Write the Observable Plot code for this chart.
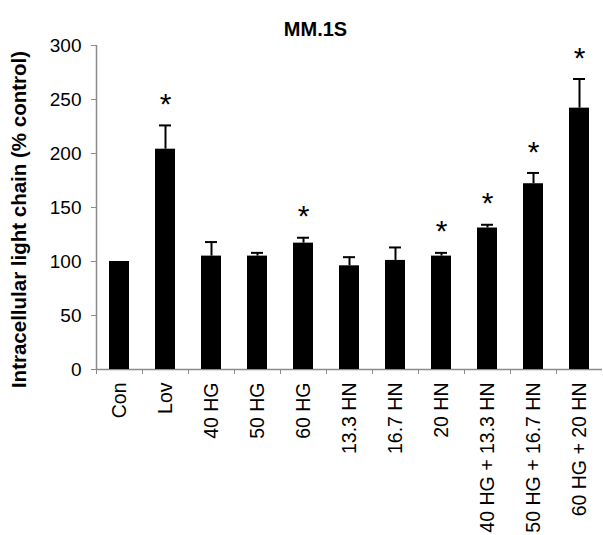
<!DOCTYPE html>
<html>
<head>
<meta charset="utf-8">
<script src="https://cdn.jsdelivr.net/npm/d3@7"></script>
<script src="https://cdn.jsdelivr.net/npm/@observablehq/plot@0.6"></script>
<style>
  html, body { margin: 0; padding: 0; background: #fff; }
  svg { display: block; }
</style>
</head>
<body>
<div id="chart"></div>
<script>
const chartTitle = "MM.1S";
const yLabel = "Intracellular light chain (% control)";
const categories = ["Con", "Lov", "40 HG", "50 HG", "60 HG", "13.3 HN", "16.7 HN", "20 HN",
  "40 HG + 13.3 HN", "50 HG + 16.7 HN", "60 HG + 20 HN"];
const means = [100, 204, 105, 105, 117, 96, 101, 105, 131, 172, 242];
const errors = [0, 22, 13, 3, 5, 8, 12, 3, 3, 10, 27];
const significant = [false, true, false, false, true, false, false, true, true, true, true];
const yTicks = [0, 50, 100, 150, 200, 250, 300];

const data = categories.map((c, i) => ({
  cat: c, mean: means[i], top: means[i] + errors[i], err: errors[i], sig: significant[i]
}));
const withErr = data.filter(d => d.err > 0);
const sig = data.filter(d => d.sig);
const axisGray = "#8a8a8a";
const font = "Liberation Sans, Arial, sans-serif";

const chart = Plot.plot({
  width: 603,
  height: 535,
  marginTop: 45,
  marginBottom: 166,
  marginLeft: 96,
  marginRight: 1,
  style: { fontFamily: font, color: "#000", background: "#fff" },
  x: { domain: categories, paddingInner: 0.56, paddingOuter: 0.28, label: null },
  y: { domain: [0, 300], label: null },
  marks: [
    // axis lines
    Plot.ruleY([0], { stroke: axisGray, strokeWidth: 1.5 }),
    Plot.ruleX([categories[0]], { y1: 0, y2: 300, dx: -23, stroke: axisGray, strokeWidth: 1.5 }),
    Plot.axisY({ ticks: yTicks, tickSize: 5, tickPadding: 10, fontSize: 19, stroke: axisGray, label: null }),
    // x ticks between categories
    Plot.axisX({ tickSize: 5, dx: -23, stroke: axisGray, text: null, label: null }),
    Plot.axisX({ tickSize: 0, tickRotate: -90, tickPadding: 13, fontSize: 19.5, label: null }),
    // bars
    Plot.barY(data, { x: "cat", y: "mean", fill: "#000" }),
    // error bars
    Plot.ruleX(withErr, { x: "cat", y1: "mean", y2: "top", stroke: "#000", strokeWidth: 2 }),
    Plot.tickY(withErr, { x: "cat", y: "top", stroke: "#000", strokeWidth: 2, insetLeft: 4, insetRight: 4 }),
    // significance asterisks
    Plot.text(sig, { x: "cat", y: "top", text: () => "*", dy: -21, fontSize: 30, lineAnchor: "middle" }),
    // title
    Plot.text([chartTitle], { frameAnchor: "top", dx: -34, dy: -24, fontSize: 20, fontWeight: "bold" }),
    // y label
    Plot.text([yLabel], { frameAnchor: "left", textAnchor: "middle", rotate: -90, dx: -77, dy: 12, fontSize: 20.5, fontWeight: "bold" })
  ]
});
document.getElementById("chart").appendChild(chart);
</script>
</body>
</html>
